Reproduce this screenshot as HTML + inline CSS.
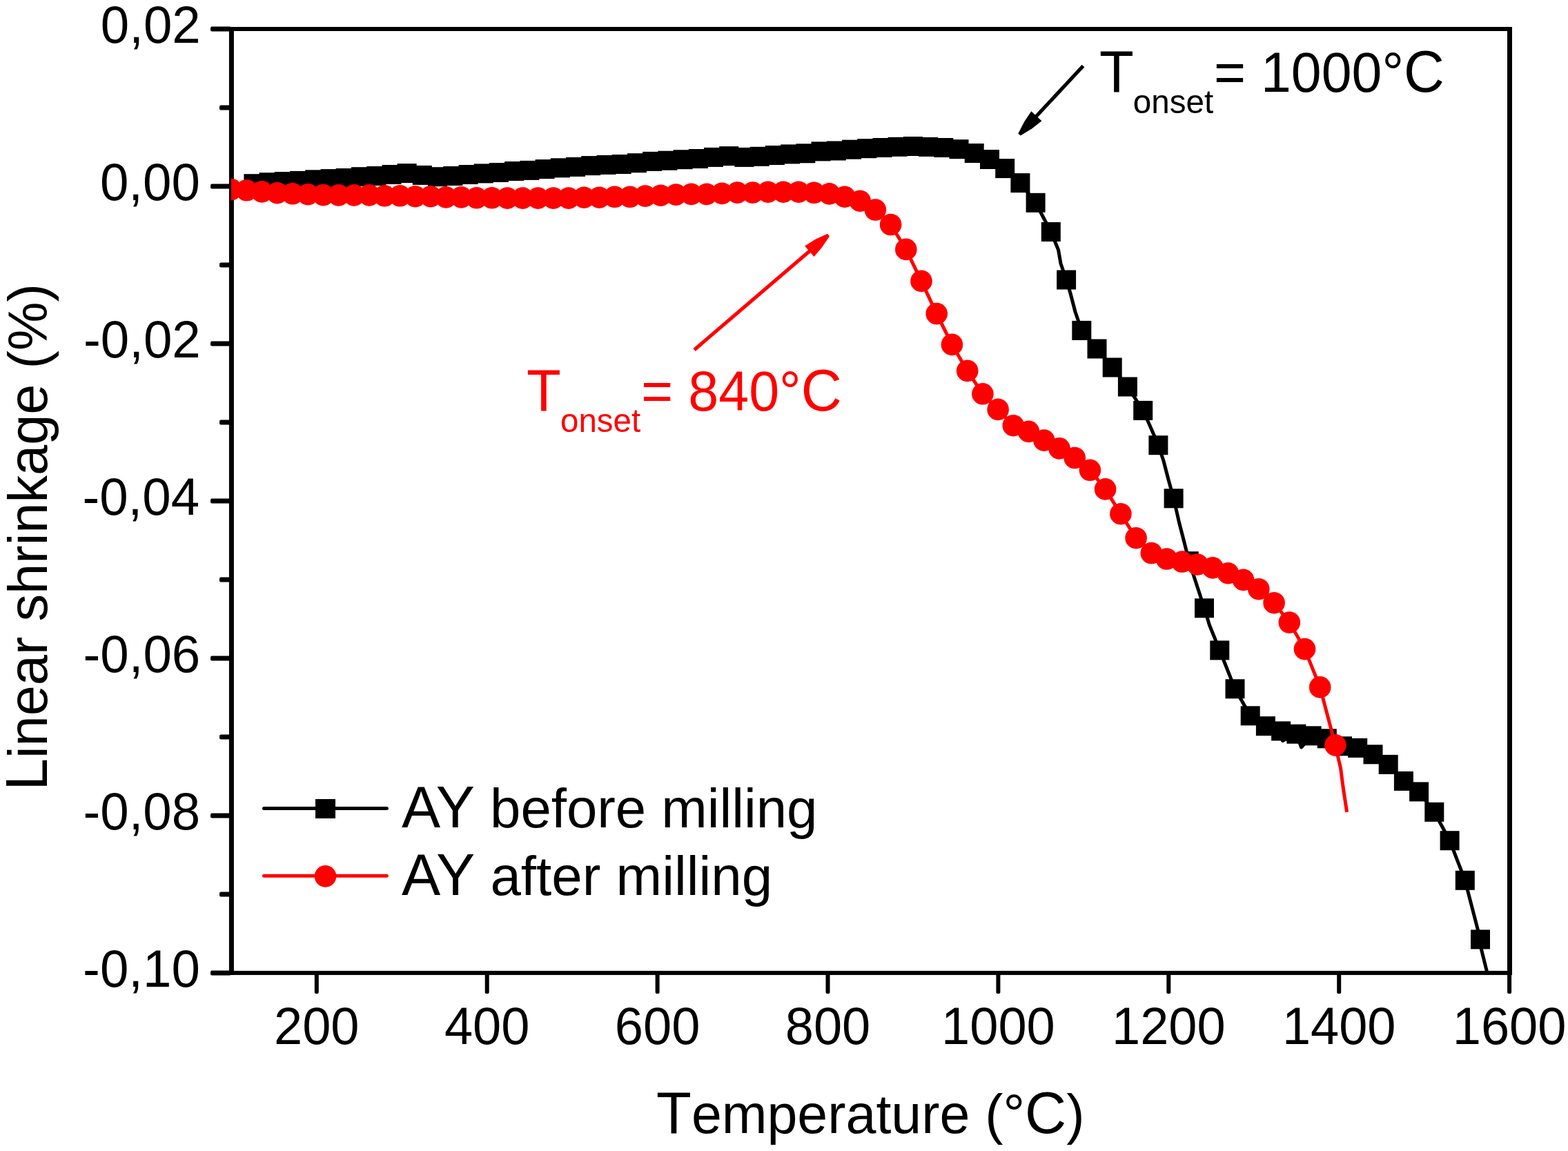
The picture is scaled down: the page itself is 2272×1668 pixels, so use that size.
<!DOCTYPE html><html><head><meta charset="utf-8"><title>Linear shrinkage vs Temperature</title>
<style>html,body{margin:0;padding:0;background:#fff;}svg{display:block;}</style></head><body>
<svg width="2272" height="1668" viewBox="0 0 2272 1668" font-family="'Liberation Sans', Arial, sans-serif">
<rect width="2272" height="1668" fill="#fff"/>
<defs><clipPath id="pc"><rect x="334.9" y="42.0" width="1852.6" height="1368.0"/></clipPath></defs>
<g fill="#000"><rect x="331.9" y="39" width="7" height="1373.9"/><rect x="2184" y="39" width="7" height="1373.9"/><rect x="331.9" y="39" width="1859.1" height="6"/><rect x="331.9" y="1406.9" width="1859.1" height="6"/><rect x="305" y="38.6" width="30" height="6.8" rx="2.2"/><rect x="305" y="266.6" width="30" height="6.8" rx="2.2"/><rect x="305" y="494.6" width="30" height="6.8" rx="2.2"/><rect x="305" y="722.6" width="30" height="6.8" rx="2.2"/><rect x="305" y="950.6" width="30" height="6.8" rx="2.2"/><rect x="305" y="1178.6" width="30" height="6.8" rx="2.2"/><rect x="305" y="1406.6" width="30" height="6.8" rx="2.2"/><rect x="318" y="152.6" width="17" height="6.8" rx="2.2"/><rect x="318" y="380.6" width="17" height="6.8" rx="2.2"/><rect x="318" y="608.6" width="17" height="6.8" rx="2.2"/><rect x="318" y="836.6" width="17" height="6.8" rx="2.2"/><rect x="318" y="1064.6" width="17" height="6.8" rx="2.2"/><rect x="318" y="1292.6" width="17" height="6.8" rx="2.2"/><rect x="455.8" y="1409" width="6" height="31" rx="2"/><rect x="702.7" y="1409" width="6" height="31" rx="2"/><rect x="949.6" y="1409" width="6" height="31" rx="2"/><rect x="1196.5" y="1409" width="6" height="31" rx="2"/><rect x="1443.4" y="1409" width="6" height="31" rx="2"/><rect x="1690.3" y="1409" width="6" height="31" rx="2"/><rect x="1937.2" y="1409" width="6" height="31" rx="2"/><rect x="2184.1" y="1409" width="6" height="31" rx="2"/></g>
<g clip-path="url(#pc)">
<polyline points="367.4,266.2 389.6,264.2 411.8,263.0 434.1,261.9 456.3,260.3 478.5,259.1 500.7,258.0 522.9,256.2 545.2,255.0 567.4,253.0 589.6,251.1 611.8,253.9 634.0,256.2 656.3,255.0 678.5,253.0 700.7,251.4 722.9,250.0 745.1,248.0 767.4,246.9 789.6,245.1 811.8,243.3 834.0,241.9 856.2,240.1 878.5,238.9 900.7,238.0 922.9,236.2 945.1,233.9 967.3,232.7 989.6,231.2 1011.8,230.0 1034.0,227.9 1056.2,226.1 1078.4,227.9 1100.7,226.8 1122.9,225.0 1145.1,223.4 1167.3,222.3 1189.5,219.4 1211.8,218.5 1234.0,216.7 1256.2,215.2 1278.4,214.0 1300.6,212.8 1322.9,212.0 1345.1,212.9 1367.3,214.0 1389.5,216.2 1411.7,222.0 1434.0,231.0 1456.2,244.1 1478.4,265.1 1500.6,293.8 1522.8,336.0 1533.5,362.0 1537.0,382.0 1545.1,405.5 1551.0,425.0 1558.0,452.0 1567.3,478.9 1589.5,505.5 1611.7,532.5 1633.9,560.5 1656.2,594.9 1664.0,612.0 1671.0,628.0 1678.4,645.2 1686.0,668.0 1693.0,695.0 1700.6,722.3 1708.5,757.0 1716.0,786.0 1722.8,813.2 1745.0,881.3 1752.5,906.0 1767.3,942.4 1789.5,998.3 1811.7,1037.3 1833.9,1052.2 1856.1,1059.4 1858.5,1073.5 1878.4,1063.7 1885.5,1083.0 1900.6,1066.3 1922.8,1070.3 1945.0,1081.3 1967.2,1083.9 1989.5,1093.3 2011.7,1107.9 2033.9,1131.9 2056.1,1147.4 2078.3,1176.8 2100.6,1218.2 2122.8,1275.8 2145.0,1361.4 2146.4,1375.7 2154.2,1406.9 2157.0,1420.0" fill="none" stroke="#000" stroke-width="5" stroke-linejoin="round"/>
<g fill="#000"><rect x="353.4" y="252.2" width="28" height="28"/><rect x="375.6" y="250.2" width="28" height="28"/><rect x="397.8" y="249.0" width="28" height="28"/><rect x="420.1" y="247.9" width="28" height="28"/><rect x="442.3" y="246.3" width="28" height="28"/><rect x="464.5" y="245.1" width="28" height="28"/><rect x="486.7" y="244.0" width="28" height="28"/><rect x="508.9" y="242.2" width="28" height="28"/><rect x="531.2" y="241.0" width="28" height="28"/><rect x="553.4" y="239.0" width="28" height="28"/><rect x="575.6" y="237.1" width="28" height="28"/><rect x="597.8" y="239.9" width="28" height="28"/><rect x="620.0" y="242.2" width="28" height="28"/><rect x="642.3" y="241.0" width="28" height="28"/><rect x="664.5" y="239.0" width="28" height="28"/><rect x="686.7" y="237.4" width="28" height="28"/><rect x="708.9" y="236.0" width="28" height="28"/><rect x="731.1" y="234.0" width="28" height="28"/><rect x="753.4" y="232.9" width="28" height="28"/><rect x="775.6" y="231.1" width="28" height="28"/><rect x="797.8" y="229.3" width="28" height="28"/><rect x="820.0" y="227.9" width="28" height="28"/><rect x="842.2" y="226.1" width="28" height="28"/><rect x="864.5" y="224.9" width="28" height="28"/><rect x="886.7" y="224.0" width="28" height="28"/><rect x="908.9" y="222.2" width="28" height="28"/><rect x="931.1" y="219.9" width="28" height="28"/><rect x="953.3" y="218.7" width="28" height="28"/><rect x="975.6" y="217.2" width="28" height="28"/><rect x="997.8" y="216.0" width="28" height="28"/><rect x="1020.0" y="213.9" width="28" height="28"/><rect x="1042.2" y="212.1" width="28" height="28"/><rect x="1064.4" y="213.9" width="28" height="28"/><rect x="1086.7" y="212.8" width="28" height="28"/><rect x="1108.9" y="211.0" width="28" height="28"/><rect x="1131.1" y="209.4" width="28" height="28"/><rect x="1153.3" y="208.3" width="28" height="28"/><rect x="1175.5" y="205.4" width="28" height="28"/><rect x="1197.8" y="204.5" width="28" height="28"/><rect x="1220.0" y="202.7" width="28" height="28"/><rect x="1242.2" y="201.2" width="28" height="28"/><rect x="1264.4" y="200.0" width="28" height="28"/><rect x="1286.6" y="198.8" width="28" height="28"/><rect x="1308.9" y="198.0" width="28" height="28"/><rect x="1331.1" y="198.9" width="28" height="28"/><rect x="1353.3" y="200.0" width="28" height="28"/><rect x="1375.5" y="202.2" width="28" height="28"/><rect x="1397.7" y="208.0" width="28" height="28"/><rect x="1420.0" y="217.0" width="28" height="28"/><rect x="1442.2" y="230.1" width="28" height="28"/><rect x="1464.4" y="251.1" width="28" height="28"/><rect x="1486.6" y="279.8" width="28" height="28"/><rect x="1508.8" y="322.0" width="28" height="28"/><rect x="1531.1" y="391.5" width="28" height="28"/><rect x="1553.3" y="464.9" width="28" height="28"/><rect x="1575.5" y="491.5" width="28" height="28"/><rect x="1597.7" y="518.5" width="28" height="28"/><rect x="1619.9" y="546.5" width="28" height="28"/><rect x="1642.2" y="580.9" width="28" height="28"/><rect x="1664.4" y="631.2" width="28" height="28"/><rect x="1686.6" y="708.3" width="28" height="28"/><rect x="1708.8" y="799.2" width="28" height="28"/><rect x="1731.0" y="867.3" width="28" height="28"/><rect x="1753.3" y="928.4" width="28" height="28"/><rect x="1775.5" y="984.3" width="28" height="28"/><rect x="1797.7" y="1023.3" width="28" height="28"/><rect x="1819.9" y="1038.2" width="28" height="28"/><rect x="1842.1" y="1045.4" width="28" height="28"/><rect x="1864.4" y="1049.7" width="28" height="28"/><rect x="1886.6" y="1052.3" width="28" height="28"/><rect x="1908.8" y="1056.3" width="28" height="28"/><rect x="1931.0" y="1067.3" width="28" height="28"/><rect x="1953.2" y="1069.9" width="28" height="28"/><rect x="1975.5" y="1079.3" width="28" height="28"/><rect x="1997.7" y="1093.9" width="28" height="28"/><rect x="2019.9" y="1117.9" width="28" height="28"/><rect x="2042.1" y="1133.4" width="28" height="28"/><rect x="2064.3" y="1162.8" width="28" height="28"/><rect x="2086.6" y="1204.2" width="28" height="28"/><rect x="2108.8" y="1261.8" width="28" height="28"/><rect x="2131.0" y="1347.4" width="28" height="28"/></g>
<polyline points="335.1,274.6 357.3,275.8 379.5,277.9 401.8,279.7 424.0,280.8 446.2,281.7 468.4,282.6 490.6,282.9 512.9,282.9 535.1,282.9 557.3,283.8 579.5,283.8 601.7,284.7 624.0,284.7 646.2,285.9 668.4,285.9 690.6,286.8 712.8,286.8 735.1,287.1 757.3,287.1 779.5,287.1 801.7,287.1 823.9,287.1 846.2,286.2 868.4,286.2 890.6,285.3 912.8,285.3 935.0,284.1 957.3,283.2 979.5,282.1 1001.7,281.4 1023.9,281.4 1046.1,280.4 1068.4,279.1 1090.6,279.1 1112.8,278.2 1135.0,278.2 1157.2,278.2 1179.5,279.3 1201.7,280.9 1223.9,285.2 1246.1,291.2 1268.3,304.0 1290.6,325.5 1312.8,361.4 1335.0,407.4 1357.2,454.6 1379.4,499.4 1401.7,537.4 1423.9,570.8 1446.1,593.4 1468.3,616.7 1490.5,625.4 1512.8,638.1 1535.0,649.9 1557.2,663.5 1579.4,681.3 1601.6,708.9 1623.9,744.7 1646.1,779.7 1668.3,801.5 1690.5,810.0 1712.7,814.0 1735.0,818.0 1757.2,822.9 1779.4,830.7 1801.6,840.4 1823.8,853.7 1846.1,873.7 1868.3,902.0 1890.5,940.6 1912.7,995.9 1934.9,1079.8 1938.5,1096.0 1942.5,1113.0 1946.0,1140.0 1951.6,1176.8" fill="none" stroke="#f00" stroke-width="5" stroke-linejoin="round"/>
<g fill="#f00"><circle cx="335.1" cy="274.6" r="15.8"/><circle cx="357.3" cy="275.8" r="15.8"/><circle cx="379.5" cy="277.9" r="15.8"/><circle cx="401.8" cy="279.7" r="15.8"/><circle cx="424.0" cy="280.8" r="15.8"/><circle cx="446.2" cy="281.7" r="15.8"/><circle cx="468.4" cy="282.6" r="15.8"/><circle cx="490.6" cy="282.9" r="15.8"/><circle cx="512.9" cy="282.9" r="15.8"/><circle cx="535.1" cy="282.9" r="15.8"/><circle cx="557.3" cy="283.8" r="15.8"/><circle cx="579.5" cy="283.8" r="15.8"/><circle cx="601.7" cy="284.7" r="15.8"/><circle cx="624.0" cy="284.7" r="15.8"/><circle cx="646.2" cy="285.9" r="15.8"/><circle cx="668.4" cy="285.9" r="15.8"/><circle cx="690.6" cy="286.8" r="15.8"/><circle cx="712.8" cy="286.8" r="15.8"/><circle cx="735.1" cy="287.1" r="15.8"/><circle cx="757.3" cy="287.1" r="15.8"/><circle cx="779.5" cy="287.1" r="15.8"/><circle cx="801.7" cy="287.1" r="15.8"/><circle cx="823.9" cy="287.1" r="15.8"/><circle cx="846.2" cy="286.2" r="15.8"/><circle cx="868.4" cy="286.2" r="15.8"/><circle cx="890.6" cy="285.3" r="15.8"/><circle cx="912.8" cy="285.3" r="15.8"/><circle cx="935.0" cy="284.1" r="15.8"/><circle cx="957.3" cy="283.2" r="15.8"/><circle cx="979.5" cy="282.1" r="15.8"/><circle cx="1001.7" cy="281.4" r="15.8"/><circle cx="1023.9" cy="281.4" r="15.8"/><circle cx="1046.1" cy="280.4" r="15.8"/><circle cx="1068.4" cy="279.1" r="15.8"/><circle cx="1090.6" cy="279.1" r="15.8"/><circle cx="1112.8" cy="278.2" r="15.8"/><circle cx="1135.0" cy="278.2" r="15.8"/><circle cx="1157.2" cy="278.2" r="15.8"/><circle cx="1179.5" cy="279.3" r="15.8"/><circle cx="1201.7" cy="280.9" r="15.8"/><circle cx="1223.9" cy="285.2" r="15.8"/><circle cx="1246.1" cy="291.2" r="15.8"/><circle cx="1268.3" cy="304.0" r="15.8"/><circle cx="1290.6" cy="325.5" r="15.8"/><circle cx="1312.8" cy="361.4" r="15.8"/><circle cx="1335.0" cy="407.4" r="15.8"/><circle cx="1357.2" cy="454.6" r="15.8"/><circle cx="1379.4" cy="499.4" r="15.8"/><circle cx="1401.7" cy="537.4" r="15.8"/><circle cx="1423.9" cy="570.8" r="15.8"/><circle cx="1446.1" cy="593.4" r="15.8"/><circle cx="1468.3" cy="616.7" r="15.8"/><circle cx="1490.5" cy="625.4" r="15.8"/><circle cx="1512.8" cy="638.1" r="15.8"/><circle cx="1535.0" cy="649.9" r="15.8"/><circle cx="1557.2" cy="663.5" r="15.8"/><circle cx="1579.4" cy="681.3" r="15.8"/><circle cx="1601.6" cy="708.9" r="15.8"/><circle cx="1623.9" cy="744.7" r="15.8"/><circle cx="1646.1" cy="779.7" r="15.8"/><circle cx="1668.3" cy="801.5" r="15.8"/><circle cx="1690.5" cy="810.0" r="15.8"/><circle cx="1712.7" cy="814.0" r="15.8"/><circle cx="1735.0" cy="818.0" r="15.8"/><circle cx="1757.2" cy="822.9" r="15.8"/><circle cx="1779.4" cy="830.7" r="15.8"/><circle cx="1801.6" cy="840.4" r="15.8"/><circle cx="1823.8" cy="853.7" r="15.8"/><circle cx="1846.1" cy="873.7" r="15.8"/><circle cx="1868.3" cy="902.0" r="15.8"/><circle cx="1890.5" cy="940.6" r="15.8"/><circle cx="1912.7" cy="995.9" r="15.8"/><circle cx="1934.9" cy="1079.8" r="15.8"/></g>
</g>
<text x="145.75" y="62.40" font-size="76.50" textLength="145.00" lengthAdjust="spacingAndGlyphs" fill="#000" >0,02</text>
<text x="144.91" y="290.40" font-size="76.50" textLength="145.00" lengthAdjust="spacingAndGlyphs" fill="#000" >0,00</text>
<text x="120.94" y="518.40" font-size="76.50" textLength="169.81" lengthAdjust="spacingAndGlyphs" fill="#000" >-0,02</text>
<text x="119.38" y="746.40" font-size="76.50" textLength="169.81" lengthAdjust="spacingAndGlyphs" fill="#000" >-0,04</text>
<text x="120.47" y="974.40" font-size="76.50" textLength="169.81" lengthAdjust="spacingAndGlyphs" fill="#000" >-0,06</text>
<text x="120.43" y="1202.40" font-size="76.50" textLength="169.81" lengthAdjust="spacingAndGlyphs" fill="#000" >-0,08</text>
<text x="120.10" y="1430.40" font-size="76.50" textLength="169.81" lengthAdjust="spacingAndGlyphs" fill="#000" >-0,10</text>
<text x="397.07" y="1512.7" font-size="76.5" textLength="123.47" lengthAdjust="spacingAndGlyphs">200</text>
<text x="643.97" y="1512.7" font-size="76.5" textLength="123.47" lengthAdjust="spacingAndGlyphs">400</text>
<text x="890.87" y="1512.7" font-size="76.5" textLength="123.47" lengthAdjust="spacingAndGlyphs">600</text>
<text x="1137.77" y="1512.7" font-size="76.5" textLength="123.47" lengthAdjust="spacingAndGlyphs">800</text>
<text x="1364.09" y="1512.7" font-size="76.5" textLength="164.62" lengthAdjust="spacingAndGlyphs">1000</text>
<text x="1610.99" y="1512.7" font-size="76.5" textLength="164.62" lengthAdjust="spacingAndGlyphs">1200</text>
<text x="1857.89" y="1512.7" font-size="76.5" textLength="164.62" lengthAdjust="spacingAndGlyphs">1400</text>
<text x="2104.79" y="1512.7" font-size="76.5" textLength="164.62" lengthAdjust="spacingAndGlyphs">1600</text>
<text x="951.03" y="1642.10" font-size="84.40" textLength="620.46" lengthAdjust="spacingAndGlyphs" fill="#000" >T<tspan font-size="80.00">emperature (°</tspan><tspan font-size="84.40">C</tspan><tspan font-size="80.00">)</tspan></text>
<text transform="translate(68.1,1138.7) rotate(-90)" x="-6.87" y="0" font-size="84.4" textLength="734.49" lengthAdjust="spacingAndGlyphs">L<tspan font-size="80.0">inear shrinkage (%)</tspan></text>
<path d="M382.5,1171.4H560.4" stroke="#000" stroke-width="5" stroke-linecap="round"/>
<rect x="457" y="1158" width="29" height="28" fill="#000"/>
<path d="M382.5,1269.3H560.4" stroke="#f00" stroke-width="5" stroke-linecap="round"/>
<circle cx="471.5" cy="1269.9" r="15.8" fill="#f00"/>
<text x="581.94" y="1198.80" font-size="84.40" textLength="602.45" lengthAdjust="spacingAndGlyphs" fill="#000" >AY<tspan font-size="80.00"> before milling</tspan></text>
<text x="581.94" y="1296.60" font-size="84.40" textLength="537.16" lengthAdjust="spacingAndGlyphs" fill="#000" >AY<tspan font-size="80.00"> after milling</tspan></text>
<text x="1593.07" y="133.20" font-size="84.40" textLength="49.80" lengthAdjust="spacingAndGlyphs" fill="#000" >T</text>
<text x="1641.80" y="164.00" font-size="49.00" textLength="116.45" lengthAdjust="spacingAndGlyphs" fill="#000" >onset</text>
<text x="1759.05" y="133.20" font-size="81.60" textLength="333.76" lengthAdjust="spacingAndGlyphs" fill="#000" >= 1000°<tspan font-size="84.40">C</tspan></text>
<text x="763.07" y="595.10" font-size="84.40" textLength="49.80" lengthAdjust="spacingAndGlyphs" fill="#f00" >T</text>
<text x="812.01" y="626.20" font-size="49.00" textLength="116.14" lengthAdjust="spacingAndGlyphs" fill="#f00" >onset</text>
<text x="929.04" y="595.10" font-size="81.60" textLength="290.78" lengthAdjust="spacingAndGlyphs" fill="#f00" >= 840°<tspan font-size="84.40">C</tspan></text>
<path d="M1569.5,95.5L1500.1,170.1" stroke="#000" stroke-width="5.2" stroke-linecap="butt"/><path d="M1478.7,196.6L1495.5,186.3L1509.4,175.3L1494.3,161.3L1484.4,175.9L1475.3,193.4Z" fill="#000"/>
<path d="M1006.0,507.0L1174.7,362.6" stroke="#f00" stroke-width="5.2" stroke-linecap="butt"/><path d="M1199.0,338.8L1181.1,347.1L1166.1,356.4L1179.5,372.1L1191.0,358.6L1202.0,342.2Z" fill="#f00"/>
</svg></body></html>
